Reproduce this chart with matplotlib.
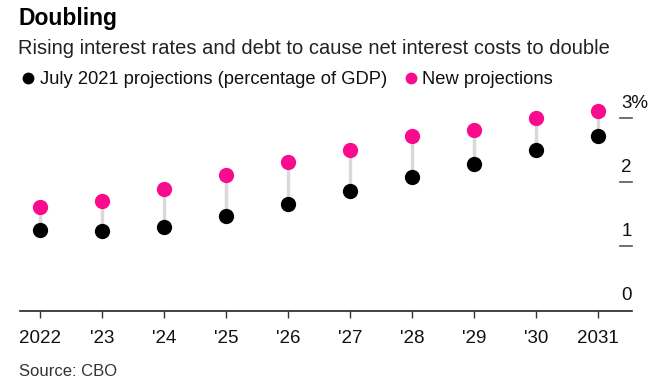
import matplotlib
matplotlib.use("Agg")
import matplotlib.pyplot as plt
import matplotlib.transforms as mtransforms
from matplotlib.lines import Line2D

plt.rcParams['font.family'] = ['Liberation Sans', 'DejaVu Sans']

years = ["2022", "'23", "'24", "'25", "'26", "'27", "'28", "'29", "'30", "2031"]
july_2021 = [1.26, 1.24, 1.31, 1.48, 1.66, 1.86, 2.08, 2.28, 2.50, 2.72]
new_proj = [1.61, 1.71, 1.90, 2.11, 2.31, 2.51, 2.72, 2.82, 3.01, 3.11]
yticks = [0, 1, 2, 3]
ytick_labels = ["0", "1", "2", "3%"]

W, H = 660, 383
fig = plt.figure(figsize=(W / 100, H / 100), dpi=100)

left_px, right_px, bottom_px, top_px = 20, 632, 310.5, 99
ax = fig.add_axes([left_px / W, 1 - bottom_px / H, (right_px - left_px) / W, (bottom_px - top_px) / H])

x = list(range(len(years)))
PINK = '#fa0a8c'
for xi, a, b in zip(x, july_2021, new_proj):
    ax.plot([xi, xi], [a, b], color='#d9d9d9', lw=2.5, zorder=1, solid_capstyle='butt')
ax.plot(x, july_2021, 'o', color='black', ms=11, mec='none', zorder=3)
ax.plot(x, new_proj, 'o', color=PINK, ms=11, mec='none', zorder=3)

ax.set_xlim(-0.33, 9.55)
ax.set_ylim(0, 3.3)
for s in ['top', 'right', 'left']:
    ax.spines[s].set_visible(False)
ax.spines['bottom'].set_color('#222222')
ax.spines['bottom'].set_linewidth(1.2)
ax.set_xticks(x)
ax.set_xticklabels(years, fontsize=13.5, color='#111111')
ax.tick_params(axis='x', length=5, width=1, color='#333333', pad=9)
ax.set_yticks([])

# right-side y labels sitting above short tick marks
trans = mtransforms.blended_transform_factory(ax.transAxes, ax.transData)
tick_x0 = (620 - left_px) / (right_px - left_px)
tick_x1 = (632 - left_px) / (right_px - left_px)
for v, lab in zip(yticks, ytick_labels):
    if v != 0:
        ax.plot([tick_x0, tick_x1], [v, v], color='#555555', lw=1.2, transform=trans, clip_on=False)
    ax.text(tick_x0 + 0.002, v + 0.1, lab, transform=trans, fontsize=13.5, color='#111111',
            ha='left', va='bottom')

fig.text(18 / W, 1 - 18 / H, "Doubling", fontsize=16.5, fontweight='bold', va='center', ha='left', color='black')
fig.text(18 / W, 1 - 48 / H, "Rising interest rates and debt to cause net interest costs to double",
         fontsize=14.5, va='center', ha='left', color='#222222')

# legend
fig.add_artist(Line2D([28 / W], [1 - 78 / H], marker='o', ms=8.5, color='black', mec='none', transform=fig.transFigure))
fig.text(40 / W, 1 - 79 / H, "July 2021 projections (percentage of GDP)", fontsize=13.2, va='center', ha='left', color='#111111')
fig.add_artist(Line2D([411 / W], [1 - 78 / H], marker='o', ms=8.5, color=PINK, mec='none', transform=fig.transFigure))
fig.text(422 / W, 1 - 79 / H, "New projections", fontsize=13.2, va='center', ha='left', color='#111111')

fig.text(19 / W, 1 - 371 / H, "Source: CBO", fontsize=12, va='center', ha='left', color='#333333')

fig.savefig("out.png", dpi=100)
